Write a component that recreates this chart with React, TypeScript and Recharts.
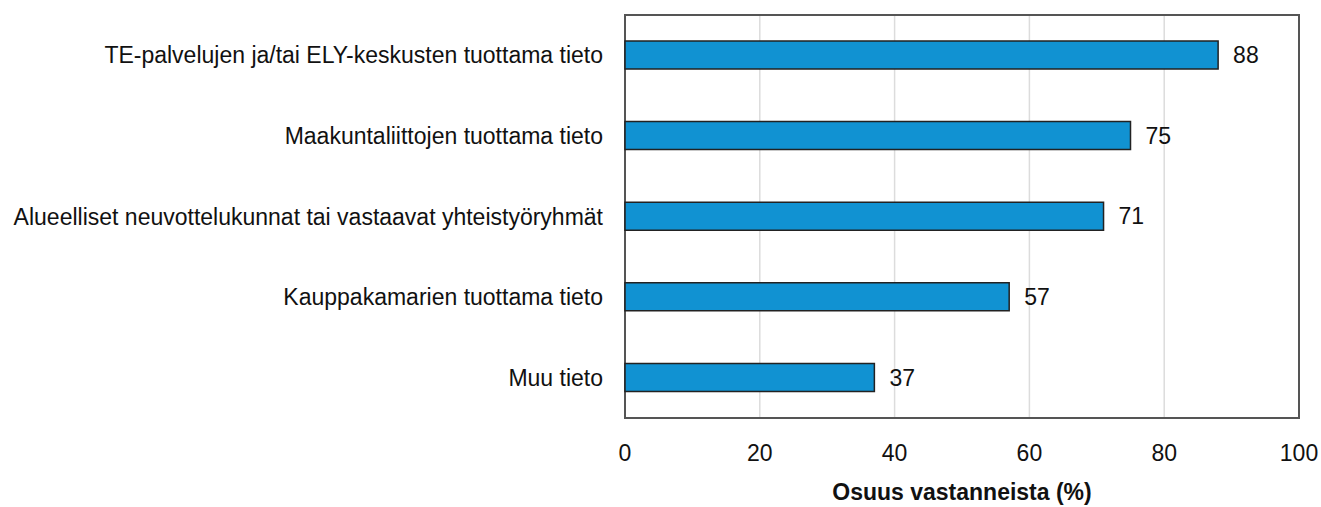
import React from 'react';
import { BarChart, Bar, XAxis, YAxis, CartesianGrid, LabelList, ReferenceArea } from 'recharts';

// Categories and values
const categories = [
  'TE-palvelujen ja/tai ELY-keskusten tuottama tieto',
  'Maakuntaliittojen tuottama tieto',
  'Alueelliset neuvottelukunnat tai vastaavat yhteistyöryhmät',
  'Kauppakamarien tuottama tieto',
  'Muu tieto',
];
const shares = [88, 75, 71, 57, 37];
const xTicks = [0, 20, 40, 60, 80, 100];

const data = categories.map((name, i) => ({ name, value: shares[i] }));

const FONT = '"Liberation Sans", Arial, sans-serif';

const App: React.FC = () => {
  return (
    <div style={{ position: 'absolute', left: 0, top: 0, background: '#fff', fontFamily: FONT }}>
      <BarChart
        width={1321}
        height={507}
        data={data}
        layout="vertical"
        margin={{ top: 15, right: 22, bottom: 9, left: 0 }}
        barCategoryGap={0}
      >
        <CartesianGrid horizontal={false} stroke="#dcdcdc" strokeWidth={1.5} />
        <XAxis
          type="number"
          domain={[0, 100]}
          ticks={xTicks}
          height={80}
          axisLine={false}
          tickLine={false}
          tickMargin={21}
          tick={{ fill: '#111', fontSize: 23, fontFamily: FONT }}
          label={{
            value: 'Osuus vastanneista (%)',
            position: 'insideBottom',
            offset: -2,
            fill: '#111',
            fontSize: 23,
            fontWeight: 'bold',
            fontFamily: FONT,
          }}
        />
        <YAxis
          type="category"
          dataKey="name"
          width={625}
          axisLine={false}
          tickLine={false}
          tickMargin={16}
          interval={0}
          tick={{ fill: '#111', fontSize: 23, fontFamily: FONT }}
        />
        <ReferenceArea x1={0} x2={100} fill="none" stroke="#555" strokeWidth={2} ifOverflow="visible" />
        <Bar
          dataKey="value"
          barSize={28}
          fill="#1192D2"
          stroke="#222"
          strokeWidth={1.5}
          isAnimationActive={false}
        >
          <LabelList
            dataKey="value"
            position="right"
            offset={15}
            fill="#111"
            fontSize={23}
            fontFamily={FONT}
          />
        </Bar>
      </BarChart>
    </div>
  );
};

export default App;
